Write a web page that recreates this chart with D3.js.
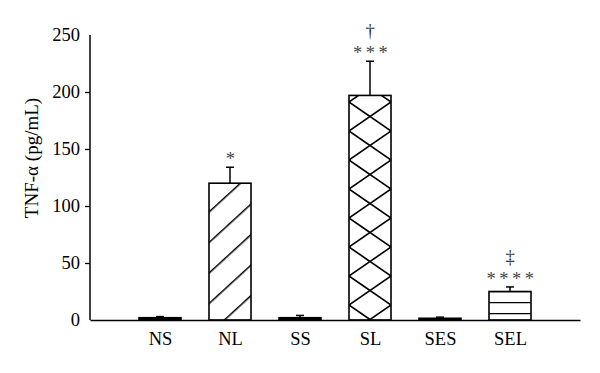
<!DOCTYPE html>
<html lang="en">
<head>
    <meta charset="UTF-8">
    <title>TNF-alpha</title>
    <style>
        body { margin: 0; background: #fff; }
        text { font-family: "Liberation Serif", "Times New Roman", serif; }
    </style>
</head>
<body>
<script src="https://cdn.jsdelivr.net/npm/d3@7"></script>
<script>
    let width = 600;
    let height = 373;

    let groups = ["NS", "NL", "SS", "SL", "SES", "SEL"];
    let means = [2, 120, 2, 197, 1.5, 25];
    let errors = [1, 14, 2, 30, 1, 4];
    let stars = ["", "*", "", "***", "", "****"];
    let daggers = ["", "", "", "\u2020", "", "\u2021"];
    let fills = ["solid", "diag", "solid", "cross", "solid", "hlines"];
    let yTicks = [0, 50, 100, 150, 200, 250];

    let svg = d3.select("body").append("svg")
        .attr("width", width)
        .attr("height", height);

    let x = d3.scalePoint()
        .domain(groups)
        .range([90, 580])
        .padding(1);
    let y = d3.scaleLinear()
        .domain([0, 250])
        .range([320, 35]);
    let barWidth = 42;

    // hatch patterns
    let defs = svg.append("defs");
    let diag = defs.append("pattern")
        .attr("id", "diag")
        .attr("patternUnits", "userSpaceOnUse")
        .attr("width", 10)
        .attr("height", 22.5)
        .attr("patternTransform", "translate(209,211) rotate(-42.5)");
    diag.append("line")
        .attr("x1", -1).attr("x2", 11)
        .attr("y1", 0).attr("y2", 0)
        .attr("stroke", "#000").attr("stroke-width", 3);

    let cross = defs.append("pattern")
        .attr("id", "cross")
        .attr("patternUnits", "userSpaceOnUse")
        .attr("width", barWidth)
        .attr("height", 29)
        .attr("x", x("SL") - barWidth / 2)
        .attr("y", 102);
    cross.append("path")
        .attr("d", "M0,0L42,29M0,29L42,0M-21,-14.5L21,14.5M21,43.5L63,14.5")
        .attr("stroke", "#000").attr("stroke-width", 1.6).attr("fill", "none");

    let hl = defs.append("pattern")
        .attr("id", "hlines")
        .attr("patternUnits", "userSpaceOnUse")
        .attr("width", 10)
        .attr("height", 11)
        .attr("y", 302);
    hl.append("line")
        .attr("x1", 0).attr("x2", 10)
        .attr("y1", 0).attr("y2", 0)
        .attr("stroke", "#000").attr("stroke-width", 2.5);

    let data = groups.map((g, i) => ({
        g: g, v: means[i], e: errors[i], s: stars[i], d: daggers[i], f: fills[i]
    }));

    // bars
    svg.selectAll("rect.bar")
        .data(data)
        .enter()
        .append("rect")
        .attr("class", "bar")
        .attr("x", d => x(d.g) - barWidth / 2)
        .attr("y", d => y(d.v))
        .attr("width", barWidth)
        .attr("height", d => y(0) - y(d.v))
        .attr("fill", d => d.f === "solid" ? "#000" : "url(#" + d.f + ")")
        .attr("stroke", "#000")
        .attr("stroke-width", 1.6);

    // error bars
    svg.selectAll("line.err")
        .data(data)
        .enter()
        .append("line")
        .attr("class", "err")
        .attr("x1", d => x(d.g))
        .attr("x2", d => x(d.g))
        .attr("y1", d => y(d.v))
        .attr("y2", d => y(d.v + d.e))
        .attr("stroke", "#000")
        .attr("stroke-width", 1.5);
    svg.selectAll("line.cap")
        .data(data)
        .enter()
        .append("line")
        .attr("class", "cap")
        .attr("x1", d => x(d.g) - 4)
        .attr("x2", d => x(d.g) + 4)
        .attr("y1", d => y(d.v + d.e))
        .attr("y2", d => y(d.v + d.e))
        .attr("stroke", "#000")
        .attr("stroke-width", 1.5);

    // significance marks
    svg.selectAll("text.star")
        .data(data)
        .enter()
        .append("text")
        .attr("class", "star")
        .attr("x", d => x(d.g) + 2)
        .attr("y", d => y(d.v + d.e) - 2)
        .attr("text-anchor", "middle")
        .attr("font-size", 18.5)
        .attr("letter-spacing", 3.5)
        .attr("fill", "#444")
        .text(d => d.s);
    svg.selectAll("text.dagger")
        .data(data)
        .enter()
        .append("text")
        .attr("class", "dagger")
        .attr("x", d => x(d.g))
        .attr("y", d => y(d.v + d.e) - 24)
        .attr("text-anchor", "middle")
        .attr("font-size", 18.5)
        .attr("fill", "#333")
        .text(d => d.d);

    // axes
    let yAxis = d3.axisLeft(y)
        .tickValues(yTicks)
        .tickSize(5)
        .tickPadding(5);
    let gy = svg.append("g")
        .attr("transform", "translate(90,0)")
        .call(yAxis);
    gy.select(".domain").attr("stroke-width", 1.5).attr("d", "M0,35V320");
    gy.selectAll(".tick line").attr("stroke-width", 1.3)
        .filter(d => d === 0 || d === 250).remove();
    gy.selectAll(".tick text")
        .attr("font-size", 18.5)
        .attr("font-family", "Liberation Serif, serif")
        .attr("fill", "#000");

    let xAxis = d3.axisBottom(x)
        .tickSize(0)
        .tickPadding(12);
    let gx = svg.append("g")
        .attr("transform", "translate(0,320)")
        .call(xAxis);
    gx.select(".domain").attr("stroke-width", 1.5);
    gx.selectAll(".tick text")
        .attr("font-size", 18.5)
        .attr("font-family", "Liberation Serif, serif")
        .attr("fill", "#000");

    svg.append("text")
        .attr("transform", "translate(38,158) rotate(-90)")
        .attr("text-anchor", "middle")
        .attr("font-size", 19)
        .attr("fill", "#000")
        .text("TNF-\u03b1 (pg/mL)");
</script>
</body>
</html>
